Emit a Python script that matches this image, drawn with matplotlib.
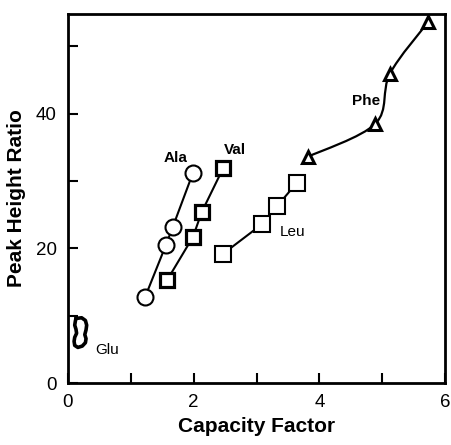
import numpy as np
import matplotlib
matplotlib.use('Agg')
from matplotlib import pyplot as plt
from matplotlib.path import Path
from matplotlib.patches import PathPatch

plt.rcParams["font.family"] = ["Liberation Sans", "DejaVu Sans"]

# capacity factor / peak height ratio for each amino acid
ala_k = [1.23, 1.56, 1.67, 1.99]
ala_r = [12.8, 20.5, 23.2, 31.2]

val_k = [1.58, 1.99, 2.13, 2.47]
val_r = [15.3, 21.7, 25.4, 31.9]

leu_k = [2.47, 3.09, 3.33, 3.64]
leu_r = [19.2, 23.6, 26.3, 29.7]

phe_k = [3.82, 4.89, 5.12, 5.73]
phe_r = [33.6, 38.5, 45.9, 53.6]

# Glu points collapse into a small loop near the origin
glu_k = [0.13, 0.22, 0.28, 0.30, 0.29, 0.27, 0.29, 0.28, 0.23, 0.16, 0.11, 0.10, 0.11, 0.14, 0.13, 0.11, 0.12, 0.13]
glu_r = [9.6, 9.7, 9.3, 8.6, 7.9, 7.2, 6.6, 6.0, 5.5, 5.3, 5.6, 6.2, 6.8, 7.4, 8.0, 8.6, 9.2, 9.6]

labels = ["Ala", "Val", "Leu", "Phe", "Glu"]
label_pos = [(1.72, 33.4), (2.66, 34.6), (3.57, 22.4), (4.74, 41.9), (0.62, 4.9)]
label_bold = [True, True, False, True, False]


def smooth_path(x, y):
    # catmull-rom through the points, written as cubic bezier segments
    pts = np.column_stack([x, y])
    verts = [pts[0]]
    codes = [Path.MOVETO]
    for i in range(len(pts) - 1):
        p0 = pts[i - 1] if i > 0 else pts[i]
        p1 = pts[i]
        p2 = pts[i + 1]
        p3 = pts[i + 2] if i + 2 < len(pts) else pts[i + 1]
        c1 = p1 + (p2 - p0) / 6
        c2 = p2 - (p3 - p1) / 6
        verts += [c1, c2, p2]
        codes += [Path.CURVE4] * 3
    return Path(verts, codes)


fig = plt.figure(figsize=(4.52, 4.45), dpi=100)
ax = fig.add_axes([0.150, 0.139, 0.835, 0.830])

ax.plot(ala_k, ala_r, "k-", lw=1.5, marker="o", ms=11.5, mfc="white", mec="black", mew=1.5)
ax.plot(val_k, val_r, "k-", lw=1.5, marker="s", ms=10, mfc="white", mec="black", mew=2.3)
ax.plot(leu_k, leu_r, "k-", lw=1.5, marker="s", ms=11, mfc="white", mec="black", mew=1.5)

ax.add_patch(PathPatch(smooth_path(phe_k, phe_r), fc="none", ec="black", lw=1.6, zorder=2))
ax.plot(phe_k, phe_r, ls="none", marker="^", ms=9, mfc="white", mec="black", mew=2.2, zorder=3)

ax.plot(glu_k, glu_r, "k-", lw=2.6, solid_joinstyle="round", solid_capstyle="round")

for name, (lx, ly), bold in zip(labels, label_pos, label_bold):
    ax.text(lx, ly, name, ha="center", va="center", fontsize=11,
            fontweight="bold" if bold else "normal")

ax.set_xlim(0, 6)
ax.set_ylim(0, 54.8)
ax.set_xticks([0, 1, 2, 3, 4, 5, 6])
ax.set_xticklabels(["0", "", "2", "", "4", "", "6"])
ax.set_yticks([0, 10, 20, 30, 40, 50])
ax.set_yticklabels(["0", "", "20", "", "40", ""])
ax.tick_params(direction="in", length=7, width=1.5, labelsize=13.5, pad=8)

for s in ax.spines.values():
    s.set_linewidth(2)

ax.set_xlabel("Capacity Factor", fontsize=15, fontweight="bold", labelpad=4)
ax.set_ylabel("Peak Height Ratio", fontsize=15, fontweight="bold", labelpad=7)

fig.savefig("out.png", dpi=100)
